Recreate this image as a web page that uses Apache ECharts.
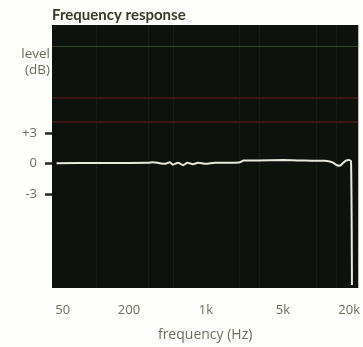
<!DOCTYPE html>
<html><head><meta charset="utf-8">
<script src="https://cdn.jsdelivr.net/npm/echarts@6/dist/echarts.min.js"></script>
<style>html,body{margin:0;padding:0;background:#fdfdfb}#c{width:363px;height:347px}</style>
</head><body><div id="c"></div>
<script>
// Measured response (frequency in Hz, level in dB)
const freqHz  = [44, 100, 200, 300, 330, 380, 430, 470, 500, 560, 620, 680, 760, 850, 1000, 1200, 1500, 2000, 2200, 3000, 5000, 8000, 12000, 14000, 15500, 16500, 17500, 18700, 19800, 20800, 21200];
const levelDb = [0.05, 0.07, 0.07, 0.08, 0.15, 0.05, 0.0, 0.15, -0.1, 0.1, -0.15, 0.1, -0.05, 0.1, 0.0, 0.1, 0.1, 0.12, 0.3, 0.32, 0.35, 0.3, 0.28, 0.15, -0.15, -0.2, 0.05, 0.3, 0.35, 0.25, -11.8];

// Axis ticks
const xTickFreqs  = [50, 200, 1000, 5000, 20000];
const xTickLabels = ['50', '200', '1k', '5k', '20k'];
const yTickValues = [3, 0, -3];
const yTickLabels = ['+3', '0', '-3'];

// Faint background grid / scan lines seen in the photo
const gridFreqs = [100, 300, 500, 2000, 3000, 10000, 15000];
const greenLevels = [11.4];
const redLevels = [6.4, 4.1];

const lg = v => Math.log10(v);
const labelMap = {};
xTickFreqs.forEach((f, i) => { labelMap[lg(f).toFixed(4)] = xTickLabels[i]; });
const yLabelMap = {};
yTickValues.forEach((v, i) => { yLabelMap[v] = yTickLabels[i]; });

const chart = echarts.init(document.getElementById('c'), null, {renderer: 'canvas'});
const txt = '#6e6d5c';
chart.setOption({
  animation: false,
  backgroundColor: '#fdfdfb',
  title: {
    text: 'Frequency response', left: 47, top: 3,
    textStyle: {fontFamily: 'Lato', fontWeight: 'bold', fontSize: 15, color: '#3b3a26'}
  },
  graphic: [
    {type: 'text', right: 363 - 50, top: 47, style: {text: 'level', fontFamily: 'Open Sans', fontSize: 13.5, fill: txt, textAlign: 'right'}},
    {type: 'text', right: 363 - 50, top: 63, style: {text: '(dB)', fontFamily: 'Open Sans', fontSize: 13.5, fill: txt, textAlign: 'right'}}
  ],
  grid: {left: 52, right: 4, top: 25, bottom: 50, show: true, backgroundColor: '#0e120d', borderWidth: 0},
  xAxis: {
    type: 'value', min: lg(40), max: lg(24200),
    axisLine: {show: false}, axisTick: {show: false}, splitLine: {show: false},
    axisLabel: {
      customValues: xTickFreqs.map(lg), margin: 16,
      fontFamily: 'Open Sans', fontSize: 13, color: txt,
      formatter: v => labelMap[v.toFixed(4)] || ''
    },
    name: 'frequency (Hz)', nameLocation: 'middle', nameGap: 40,
    nameTextStyle: {fontFamily: 'Open Sans', fontSize: 14, color: txt}
  },
  yAxis: {
    type: 'value', min: -12.1, max: 13.5,
    axisLine: {show: false}, splitLine: {show: false},
    axisTick: {show: true, customValues: yTickValues, length: 7, inside: false, lineStyle: {color: '#2a2a22', width: 2.5}},
    axisLabel: {
      customValues: yTickValues, margin: 15,
      fontFamily: 'Open Sans', fontSize: 13, color: txt,
      formatter: v => yLabelMap[v] !== undefined ? yLabelMap[v] : ''
    }
  },
  series: [
    {
      type: 'line', data: [], silent: true,
      markLine: {
        silent: true, symbol: 'none', label: {show: false},
        data: [
          ...gridFreqs.map(f => ({xAxis: lg(f), lineStyle: {color: 'rgba(170,170,160,0.13)', type: 'dotted', width: 1}})),
          ...greenLevels.map(v => ({yAxis: v, lineStyle: {color: 'rgba(90,140,50,0.45)', type: 'solid', width: 1}})),
          ...redLevels.map(v => ({yAxis: v, lineStyle: {color: 'rgba(150,35,35,0.45)', type: 'solid', width: 1.5}}))
        ]
      }
    },
    {
      type: 'line', showSymbol: false, smooth: 0.2,
      data: freqHz.map((f, i) => [lg(f), levelDb[i]]),
      lineStyle: {color: '#e9eadb', width: 2}
    }
  ]
});
</script></body></html>
